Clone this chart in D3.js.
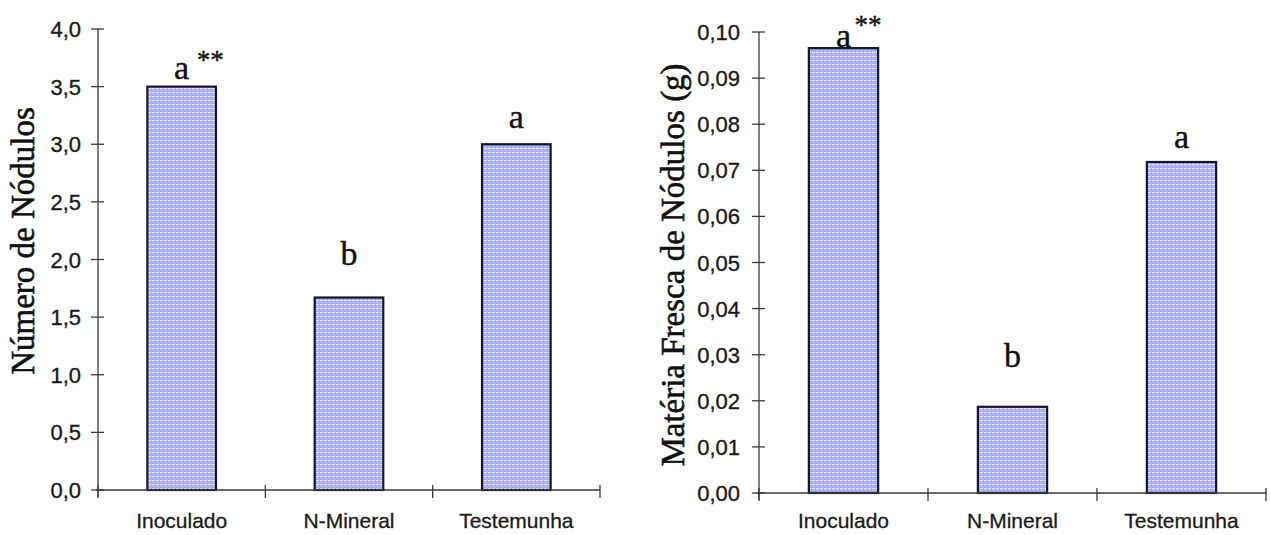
<!DOCTYPE html>
<html>
<head>
<meta charset="utf-8">
<script src="https://cdn.jsdelivr.net/npm/d3@7"></script>
<style>
  html, body { margin: 0; padding: 0; background: #fff; }
  svg { display: block; }
</style>
</head>
<body>
<svg id="chart" width="1271" height="535"></svg>
<script>
// Treatments and measurements
const categories = ["Inoculado", "N-Mineral", "Testemunha"];
const nodulesCount = [3.5, 1.67, 3.0];
const nodulesFreshMass = [0.0965, 0.0187, 0.0718];
const letters = ["a", "b", "a"];
const significance = ["**", "", ""];
const countTicks = [0, 0.5, 1, 1.5, 2, 2.5, 3, 3.5, 4];
const massTicks = [0, 0.01, 0.02, 0.03, 0.04, 0.05, 0.06, 0.07, 0.08, 0.09, 0.10];

const svg = d3.select("#chart");

// Dotted fill used by the bars
const defs = svg.append("defs");
const pat = defs.append("pattern")
  .attr("id", "dots").attr("patternUnits", "userSpaceOnUse")
  .attr("width", 4).attr("height", 4);
pat.append("rect").attr("width", 4).attr("height", 4).attr("fill", "#a6adf1");
pat.append("rect").attr("x", 0).attr("y", 0).attr("width", 3).attr("height", 1).attr("fill", "#ebe4f9");
pat.append("rect").attr("x", 1).attr("y", 2).attr("width", 1).attr("height", 1).attr("fill", "#d3d4f8");

const axisColor = "#3a3a3a";
const sans = "Liberation Sans, Arial, sans-serif";
const serif = "Liberation Serif, Times New Roman, serif";

function panel(cfg) {
  const g = svg.append("g");
  const x = d3.scaleBand().domain(categories).range(cfg.xRange)
    .paddingInner(0.59).paddingOuter(0.295);
  const y = d3.scaleLinear().domain(cfg.domain).range(cfg.yRange);
  const x0 = cfg.xRange[0];
  const base = y(0);

  // bars
  g.selectAll("rect.bar").data(cfg.values).enter().append("rect")
    .attr("class", "bar")
    .attr("x", (d, i) => x(categories[i]))
    .attr("width", x.bandwidth())
    .attr("y", d => y(d))
    .attr("height", d => base - y(d))
    .attr("fill", "url(#dots)")
    .attr("stroke", "#15152a").attr("stroke-width", 2.2);

  // y axis line
  g.append("line").attr("x1", x0).attr("x2", x0)
    .attr("y1", y(cfg.domain[1])).attr("y2", base + 7)
    .attr("stroke", axisColor).attr("stroke-width", 1.3);
  // x axis line
  g.append("line").attr("x1", x0 - 2).attr("x2", cfg.xRange[1])
    .attr("y1", base).attr("y2", base)
    .attr("stroke", axisColor).attr("stroke-width", 1.3);

  // y ticks and labels
  cfg.ticks.forEach(t => {
    g.append("line").attr("x1", x0 - 7).attr("x2", x0 + 6)
      .attr("y1", y(t)).attr("y2", y(t))
      .attr("stroke", axisColor).attr("stroke-width", 1.3);
    g.append("text").attr("x", x0 - cfg.labelGap).attr("y", y(t) + 8)
      .attr("text-anchor", "end")
      .attr("font-family", sans)
      .attr("font-size", 22).attr("fill", "#1a1a1a")
      .attr("stroke", "#1a1a1a").attr("stroke-width", 0.35)
      .text(d3.format("." + cfg.decimals + "f")(t).replace(".", ","));
  });

  // x ticks at band boundaries
  d3.range(categories.length + 1).forEach(i => {
    const xp = x0 + i * x.step();
    g.append("line").attr("x1", xp).attr("x2", xp)
      .attr("y1", base - 5).attr("y2", base + 8)
      .attr("stroke", axisColor).attr("stroke-width", 1.3);
  });

  // category labels
  categories.forEach(c => {
    g.append("text").attr("x", x(c) + x.bandwidth() / 2).attr("y", 528)
      .attr("text-anchor", "middle")
      .attr("font-family", sans)
      .attr("font-size", 21).attr("fill", "#1a1a1a")
      .attr("stroke", "#1a1a1a").attr("stroke-width", 0.3)
      .text(c);
  });

  // significance letters
  cfg.values.forEach((v, i) => {
    const cx = x(categories[i]) + x.bandwidth() / 2;
    const by = y(v) - cfg.letterLift[i];
    g.append("text").attr("x", cx).attr("y", by)
      .attr("text-anchor", "middle")
      .attr("font-family", serif)
      .attr("font-size", 34).attr("fill", "#111")
      .attr("stroke", "#111").attr("stroke-width", 0.4)
      .text(letters[i]);
    if (significance[i]) {
      g.append("text").attr("x", cx + cfg.starDx).attr("y", by - cfg.starRise)
        .attr("font-family", serif)
        .attr("font-size", 27).attr("fill", "#111")
        .attr("stroke", "#111").attr("stroke-width", 0.4)
        .text(significance[i]);
    }
  });

  // y title
  g.append("text")
    .attr("transform", `translate(${cfg.titleX},${cfg.titleY}) rotate(-90)`)
    .attr("text-anchor", "middle")
    .attr("font-family", serif)
    .attr("font-size", 33).attr("fill", "#111")
    .attr("stroke", "#111").attr("stroke-width", 0.6)
    .text(cfg.title);
}

panel({
  values: nodulesCount, domain: [0, 4], ticks: countTicks, decimals: 1,
  xRange: [98, 600], yRange: [490, 29], labelGap: 17,
  letterLift: [8, 33, 16], starDx: 15, starRise: 10,
  title: "Número de Nódulos", titleX: 34, titleY: 241
});

panel({
  values: nodulesFreshMass, domain: [0, 0.10], ticks: massTicks, decimals: 2,
  xRange: [759, 1266], yRange: [493, 32], labelGap: 19,
  letterLift: [1, 40, 14], starDx: 11, starRise: 13,
  title: "Matéria Fresca de Nódulos (g)", titleX: 684, titleY: 265
});
</script>
</body>
</html>
